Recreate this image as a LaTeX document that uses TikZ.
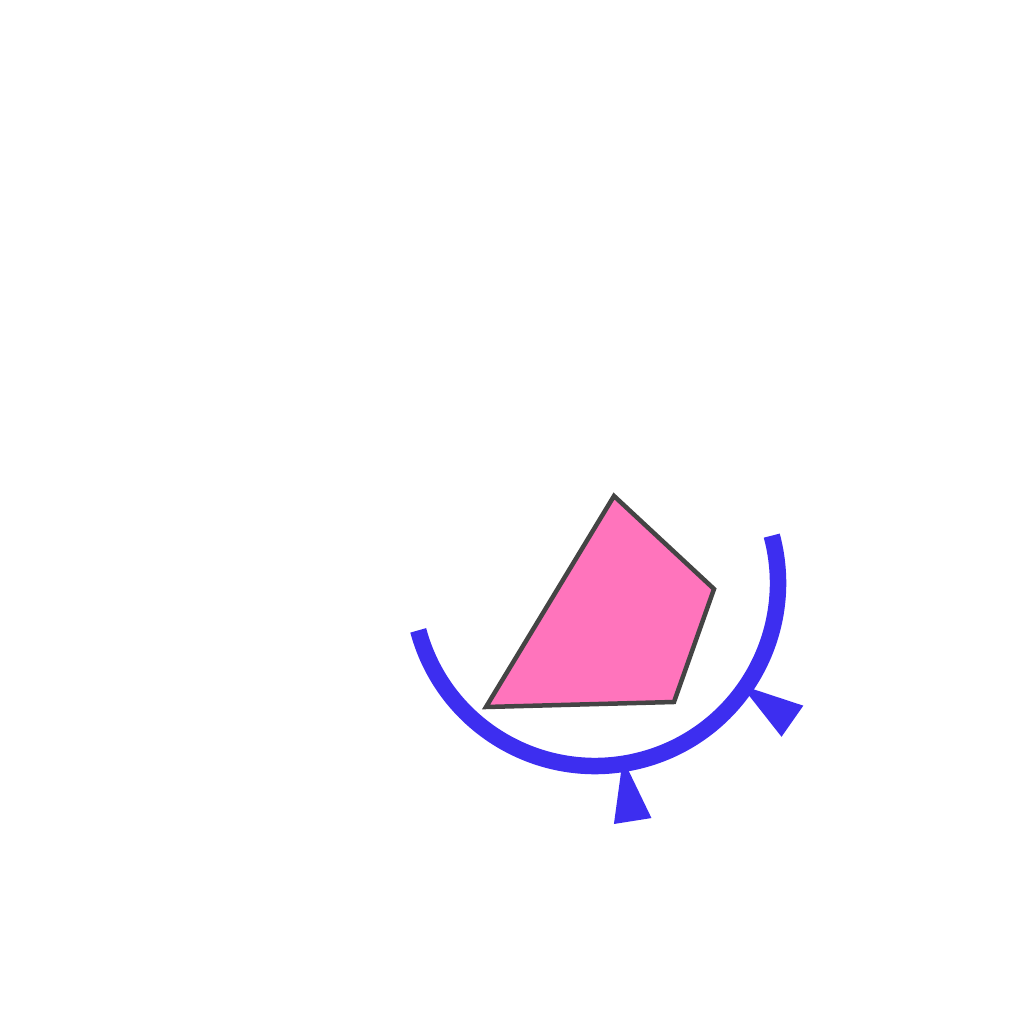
\documentclass[tikz,border=0pt]{standalone}
\usepackage{tikz}
\definecolor{ringblue}{RGB}{61,46,240}
\definecolor{kitepink}{RGB}{255,116,188}
\definecolor{edgegray}{RGB}{68,68,68}

\begin{document}
\begin{tikzpicture}[
  kite/.style={draw=edgegray, fill=kitepink, line width=0.045cm, line join=miter},
  ring/.style={draw=ringblue, line width=0.165cm},
  tick/.style={fill=ringblue, draw=none}
]
  \useasboundingbox (0,0) rectangle (10.24,10.24);
  \coordinate (c) at (5.95,4.41);

  % quadrilateral
  \coordinate (p1) at (6.14,5.28);
  \coordinate (p2) at (7.14,4.35);
  \coordinate (p3) at (6.74,3.22);
  \coordinate (p4) at (4.86,3.17);
  \draw[kite] (p1) -- (p2) -- (p3) -- (p4) -- cycle;

  % markers, then the arc over their tips
  \foreach \a in {-81,-35}
    \fill[tick, shift={(c)}, rotate=\a] (1.78,0) -- (2.41,0.19) -- (2.41,-0.19) -- cycle;
  \draw[ring, shift={(c)}] (-165:1.83) arc[start angle=-165, end angle=15, radius=1.83];
\end{tikzpicture}
\end{document}
